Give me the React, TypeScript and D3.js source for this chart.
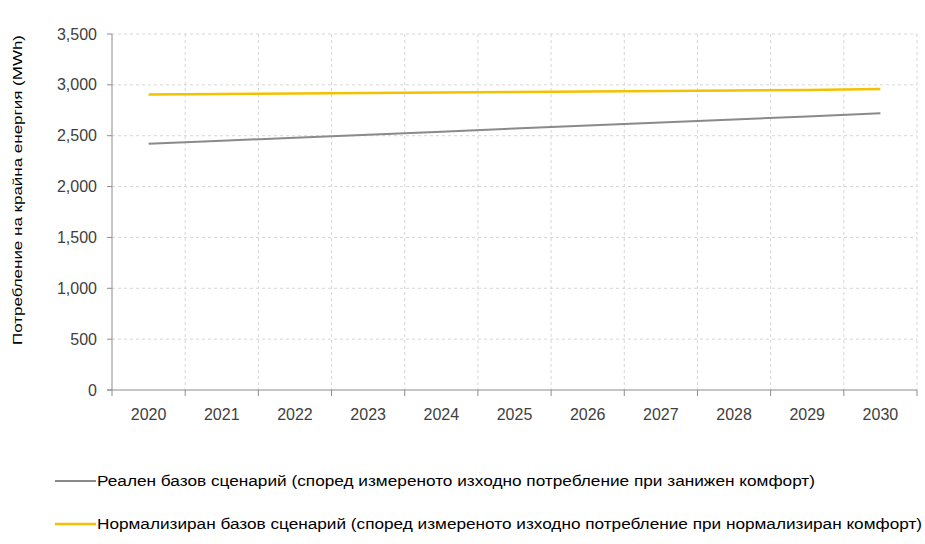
import React from "react";
import * as d3 from "d3";

const years = ["2020","2021","2022","2023","2024","2025","2026","2027","2028","2029","2030"];
const realValues = [2420, 2450, 2480, 2510, 2540, 2570, 2600, 2630, 2660, 2690, 2720];
const normValues = [2905, 2910, 2915, 2920, 2925, 2930, 2935, 2940, 2945, 2950, 2960];
const yTicks = [0, 500, 1000, 1500, 2000, 2500, 3000, 3500];
const yTitle = "Потребление на крайна енергия (MWh)";
const legendReal = "Реален базов сценарий (според измереното изходно потребление при занижен комфорт)";
const legendNorm = "Нормализиран базов сценарий (според измереното изходно потребление при нормализиран комфорт)";

export default function App() {
  const W = 925, H = 544;
  const left = 112, right = 917, top = 34, bottom = 390;
  const x = d3.scaleBand<string>().domain(years).range([left, right]);
  const y = d3.scaleLinear().domain([0, 3500]).range([bottom, top]);
  const cx = (d: string) => (x(d) as number) + x.bandwidth() / 2;
  const line = d3.line<number>().x((_, i) => cx(years[i])).y((v) => y(v));
  const bounds = years.map((d) => x(d) as number).concat([right]);
  const font = "'Liberation Sans', Arial, sans-serif";
  return (
    <svg width={W} height={H} style={{ position: "absolute", left: 0, top: 0, background: "#fff" }}>
      <rect x={0} y={0} width={W} height={H} fill="#fff" />
      {yTicks.slice(1).map((t) => (
        <line key={"h" + t} x1={left} x2={right} y1={y(t)} y2={y(t)} stroke="#d6d6d6" strokeDasharray="3,3" />
      ))}
      {bounds.slice(1).map((b, i) => (
        <line key={"v" + i} x1={b} x2={b} y1={top} y2={bottom} stroke="#d6d6d6" strokeDasharray="3,3" />
      ))}
      <line x1={left} x2={left} y1={top} y2={bottom} stroke="#8c8c8c" strokeWidth={1} />
      <line x1={left - 5} x2={right} y1={bottom} y2={bottom} stroke="#8c8c8c" strokeWidth={1} />
      {yTicks.map((t) => (
        <g key={"yt" + t}>
          <line x1={left - 5} x2={left} y1={y(t)} y2={y(t)} stroke="#8c8c8c" />
          <text x={97} y={y(t)} dy="0.35em" textAnchor="end" fontFamily={font} fontSize={16} fill="#404040">
            {d3.format(",")(t)}
          </text>
        </g>
      ))}
      {bounds.map((b, i) => (
        <line key={"xt" + i} x1={b} x2={b} y1={bottom} y2={bottom + 6} stroke="#8c8c8c" />
      ))}
      {years.map((d) => (
        <text key={"xl" + d} x={cx(d)} y={bottom + 30} textAnchor="middle" fontFamily={font} fontSize={16} fill="#404040">
          {d}
        </text>
      ))}
      <text
        transform={`translate(22, ${(35 + 345) / 2}) rotate(-90)`}
        textAnchor="middle"
        fontFamily={font}
        fontSize={13}
        fill="#000"
        textLength={310}
        lengthAdjust="spacingAndGlyphs"
      >
        {yTitle}
      </text>
      <path d={line(realValues) || ""} fill="none" stroke="#8a8a8a" strokeWidth={2} />
      <path d={line(normValues) || ""} fill="none" stroke="#f2c200" strokeWidth={2.5} />
      <line x1={55} x2={96} y1={481} y2={481} stroke="#8a8a8a" strokeWidth={2} />
      <text x={97} y={481} dy="0.35em" fontFamily={font} fontSize={14} fill="#000" textLength={718} lengthAdjust="spacingAndGlyphs">
        {legendReal}
      </text>
      <line x1={55} x2={96} y1={524} y2={524} stroke="#f2c200" strokeWidth={2.5} />
      <text x={97} y={524} dy="0.35em" fontFamily={font} fontSize={14} fill="#000" textLength={825} lengthAdjust="spacingAndGlyphs">
        {legendNorm}
      </text>
    </svg>
  );
}
